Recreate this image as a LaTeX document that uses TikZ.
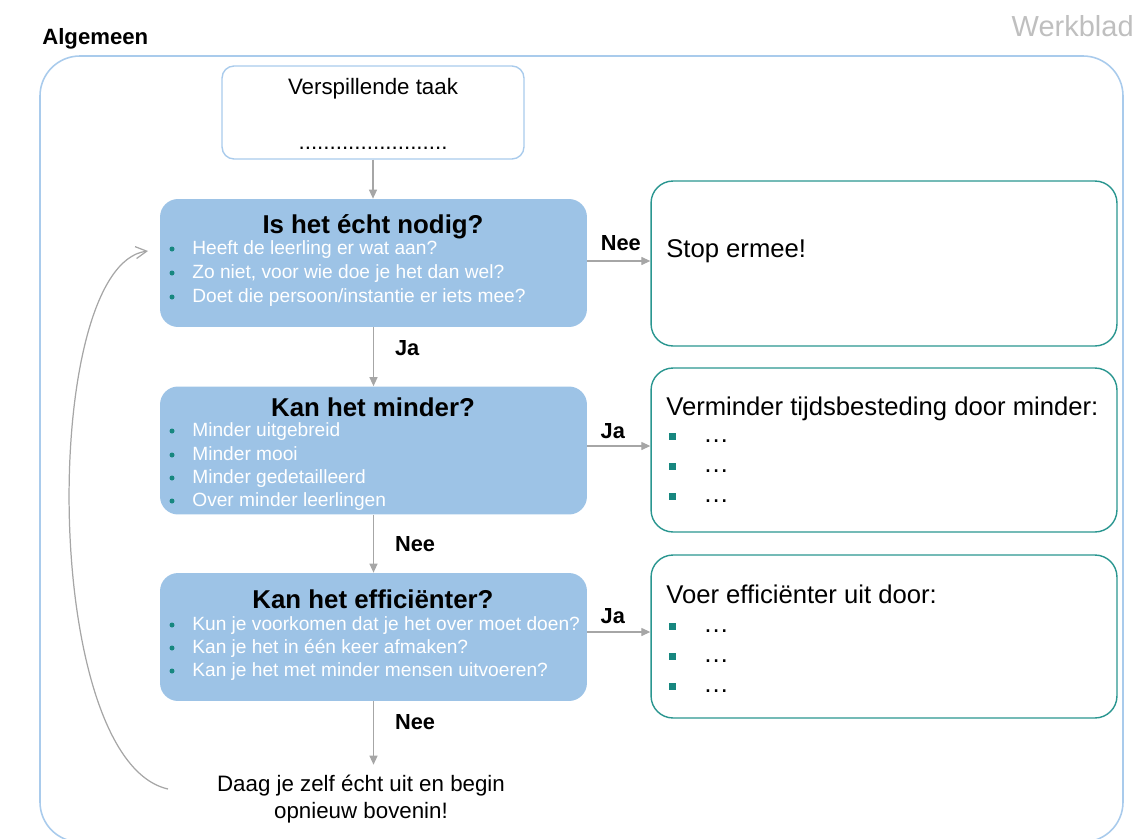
\documentclass[tikz,border=0pt]{standalone}
\usepackage{fontspec}
\setmainfont{Liberation Sans}
\usepackage{tikz}
\usetikzlibrary{arrows.meta,positioning}
\definecolor{boxBlue}{HTML}{9DC3E6}
\definecolor{frameBlue}{HTML}{A9CBEC}
\definecolor{tealLine}{HTML}{2A9690}
\definecolor{tealDot}{HTML}{17877F}
\definecolor{arrowGray}{HTML}{A6A6A6}
\definecolor{pageGray}{HTML}{BFBFBF}

\begin{document}
\begin{tikzpicture}[
      x=0.02cm, y=-0.02cm,
      question/.style={rectangle, rounded corners=0.36cm, fill=boxBlue, draw=none, minimum width=8.54cm, minimum height=2.56cm},
      answer/.style={rectangle, rounded corners=0.44cm, draw=tealLine, line width=0.8pt, fill=white, minimum width=9.32cm},
      taskbox/.style={rectangle, rounded corners=0.24cm, draw=frameBlue, line width=0.8pt, fill=white, minimum width=6.04cm, minimum height=1.86cm},
      qtitle/.style={inner sep=0pt, font=\fontsize{14.7}{17}\selectfont\bfseries},
      qitem/.style={anchor=base west, inner sep=0pt, text=white, font=\fontsize{10.9}{13}\selectfont},
      qdot/.style={circle, fill=tealDot, inner sep=0pt, minimum size=0.1cm},
      atext/.style={anchor=west, inner sep=0pt, font=\fontsize{14.6}{17}\selectfont},
      sqbul/.style={rectangle, fill=tealDot, inner sep=0pt, minimum size=0.14cm},
      plain/.style={inner sep=0pt, font=\fontsize{12.7}{15.3}\selectfont, align=center},
      lbl/.style={inner sep=0pt, font=\fontsize{12.4}{14}\selectfont\bfseries},
      flow/.style={-{Triangle[length=1.8mm, width=1.6mm]}, line width=0.7pt, draw=arrowGray},
      back/.style={-{Straight Barb[length=2.2mm, width=2.4mm]}, line width=0.7pt, draw=arrowGray}
    ]
      \useasboundingbox (0,0) rectangle (1135,838);

      % frame and headings
      \draw[frameBlue, line width=0.9pt, rounded corners=0.8cm] (40,56) rectangle (1123,842);
      \node[anchor=west, inner sep=0pt, font=\fontsize{12.6}{14}\selectfont\bfseries] (algemeen) at (42,39) {Algemeen};
      \node[anchor=east, inner sep=0pt, text=pageGray, font=\fontsize{16.5}{19}\selectfont] (werkblad) at (1134,26) {Werkblad};

      % starting task
      \node[taskbox] (task) at (373,112.5) {};
      \node[plain] (tasklabel) at (373,89) {Verspillende taak};
      \node[plain] (taskdots) at (373,148) {........................};

      % questions
      \node[question] (q1) at (373.5,263) {};
      \node[question] (q2) at (373.5,450.5) {};
      \node[question] (q3) at (373.5,637) {};
      \node[qtitle] (t1) at (373,227) {Is het écht nodig?};
      \node[qtitle] (t2) at (373,407) {Kan het minder?};
      \node[qtitle] (t3) at (373,599) {Kan het efficiënter?};

      \node[qdot] (d11) at (172,249) {};
      \node[qitem] (i11) at (192,254) {Heeft de leerling er wat aan?};
      \node[qdot] (d12) at (172,273) {};
      \node[qitem] (i12) at (192,278) {Zo niet, voor wie doe je het dan wel?};
      \node[qdot] (d13) at (172,297) {};
      \node[qitem] (i13) at (192,302) {Doet die persoon/instantie er iets mee?};

      \node[qdot] (d21) at (172,431) {};
      \node[qitem] (i21) at (192,436) {Minder uitgebreid};
      \node[qdot] (d22) at (172,455) {};
      \node[qitem] (i22) at (192,460) {Minder mooi};
      \node[qdot] (d23) at (172,478) {};
      \node[qitem] (i23) at (192,483) {Minder gedetailleerd};
      \node[qdot] (d24) at (172,501) {};
      \node[qitem] (i24) at (192,506) {Over minder leerlingen};

      \node[qdot] (d31) at (172,625) {};
      \node[qitem] (i31) at (192,630) {Kun je voorkomen dat je het over moet doen?};
      \node[qdot] (d32) at (172,648) {};
      \node[qitem] (i32) at (192,653) {Kan je het in één keer afmaken?};
      \node[qdot] (d33) at (172,671) {};
      \node[qitem] (i33) at (192,676) {Kan je het met minder mensen uitvoeren?};

      % answers
      \node[answer, minimum height=3.3cm] (a1) at (884,263.5) {};
      \node[answer, minimum height=3.28cm] (a2) at (884,450) {};
      \node[answer, minimum height=3.26cm] (a3) at (884,636.5) {};
      \node[atext] (stop) at (666,251) {Stop ermee!};
      \node[atext] (minder) at (666,409) {Verminder tijdsbesteding door minder:};
      \node[atext] (effic) at (666,594) {Voer efficiënter uit door:};
      \foreach \y in {436,466,496} {
        \node[sqbul] (sa\y) at (672,\y) {};
        \node[atext] (ea\y) at (703,\y+5) {…};
      }
      \foreach \y in {626,656,686} {
        \node[sqbul] (sb\y) at (672,\y) {};
        \node[atext] (eb\y) at (703,\y+5) {…};
      }

      % end
      \node[plain] (retry) at (361,799) {Daag je zelf écht uit en begin\\opnieuw bovenin!};
      \coordinate (loopstart) at (168,789);
      \coordinate (loopend) at (148,251);

      % connectors
      \draw[flow] (task.south) -- (task.south |- q1.north);
      \draw[flow] ([yshift=0.04cm]q1.east) -- node[lbl, above=0.2cm, xshift=0.04cm]{Nee} ([yshift=0.04cm]q1.east -| a1.west);
      \draw[flow] (q1.south) -- node[lbl, right=0.42cm, pos=0.36]{Ja} (q1.south |- q2.north);
      \draw[flow] ([yshift=0.09cm]q2.east) -- node[lbl, above=0.14cm, xshift=-0.12cm]{Ja} ([yshift=0.09cm]q2.east -| a2.west);
      \draw[flow] (q2.south) -- node[lbl, right=0.42cm]{Nee} (q2.south |- q3.north);
      \draw[flow] ([yshift=0.1cm]q3.east) -- node[lbl, above=0.16cm, xshift=-0.12cm]{Ja} ([yshift=0.1cm]q3.east -| a3.west);
      \draw[flow] (q3.south) -- node[lbl, right=0.42cm, pos=0.33]{Nee} ([yshift=0.2cm]q3.south |- retry.north);
      \draw[back] (loopstart) .. controls (40,760) and (40,265) .. (loopend);
    \end{tikzpicture}
\end{document}
